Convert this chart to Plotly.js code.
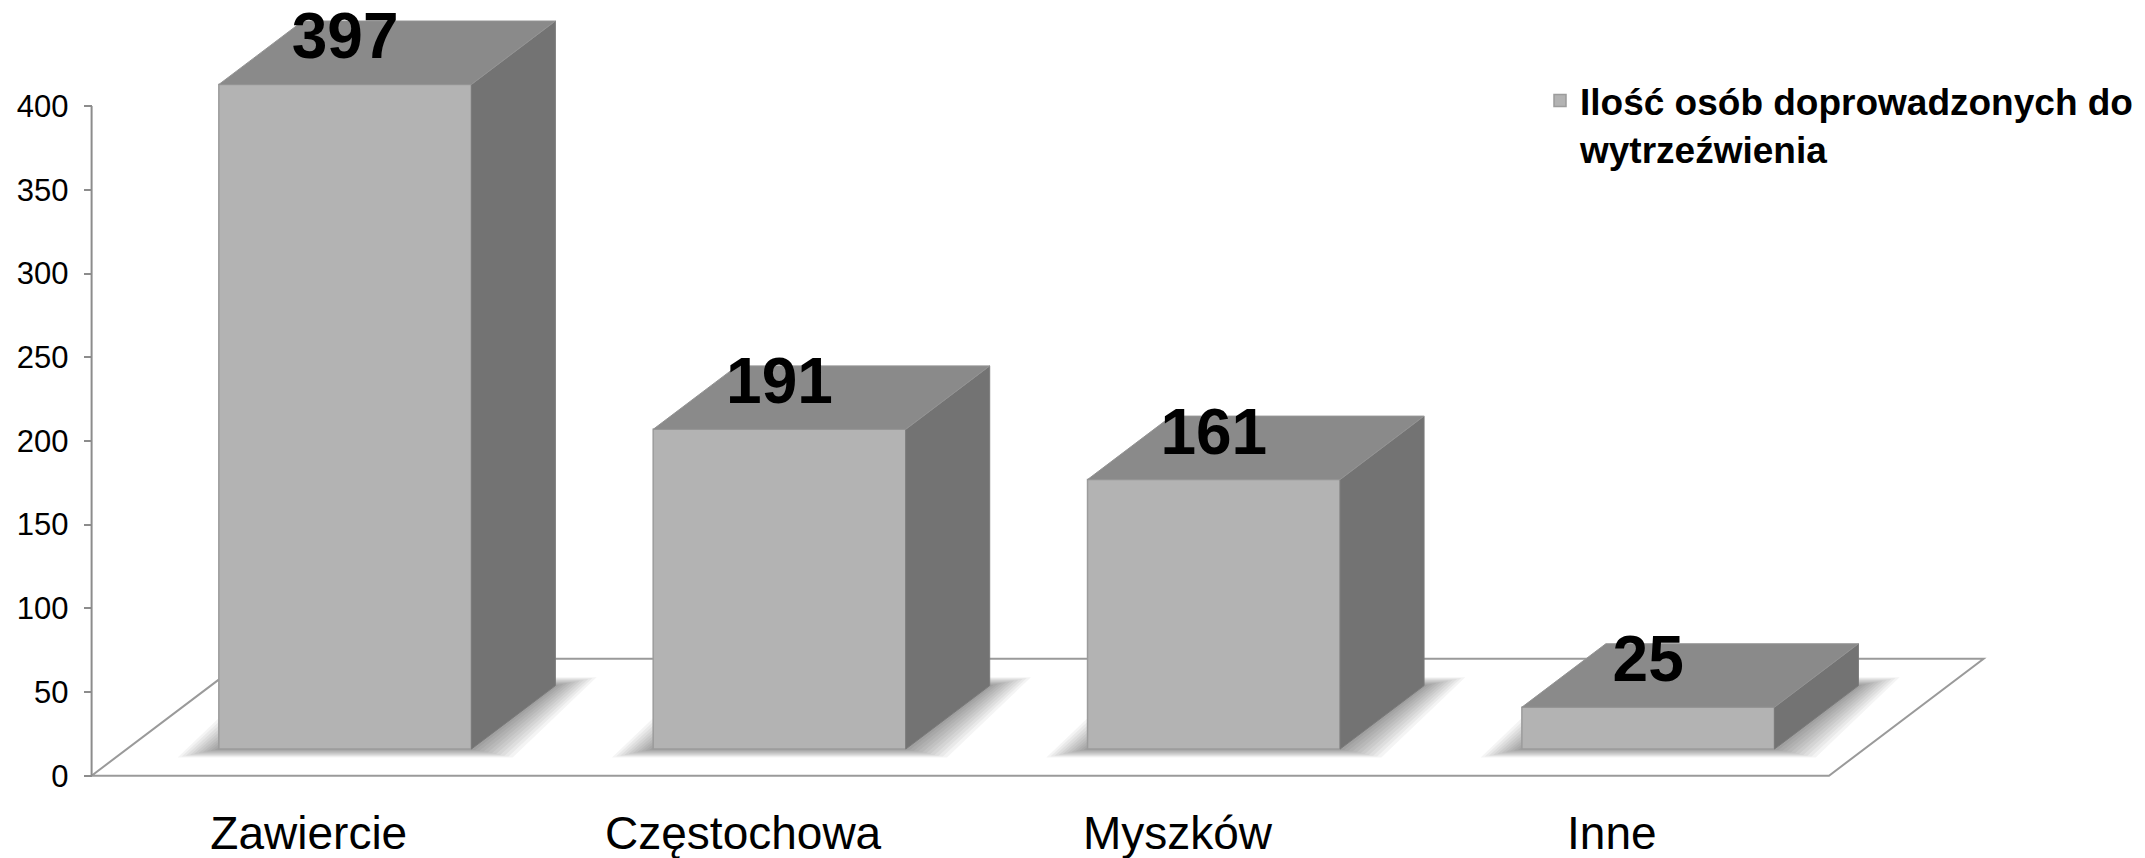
<!DOCTYPE html>
<html>
<head>
<meta charset="utf-8">
<script src="https://cdn.plot.ly/plotly-3.0.1.min.js"></script>
<style>html,body{margin:0;padding:0;background:#fff;}#chart{width:2145px;height:858px;}</style>
</head>
<body>
<div id="chart"></div>
<script>
// ---- data ----
const categories = ['Zawiercie', 'Częstochowa', 'Myszków', 'Inne'];
const values = [397, 191, 161, 25];
const yTickVals = [0, 50, 100, 150, 200, 250, 300, 350, 400];
const seriesName = 'Ilość osób doprowadzonych do<br>wytrzeźwienia';

// ---- 3D projection geometry (in axis units) ----
const DEPTH_X = 0.356;   // floor depth, x direction (category units)
const DEPTH_Y = 69.8;    // floor depth, y direction (value units)
const FRONT = 0.228;     // bar front face position as fraction of floor depth
const BAR_DEPTH = 0.543; // bar depth as fraction of floor depth
const BAR_W = 0.5815;    // bar width (category units)

const FONT = '"Liberation Sans", Arial, sans-serif';
const pos = categories.map((c, i) => i);
const xFront = pos.map(p => p + 0.235 * DEPTH_X);
const base = FRONT * DEPTH_Y;
const bdx = BAR_DEPTH * DEPTH_X, bdy = BAR_DEPTH * DEPTH_Y;

// top and side faces
const topX = [], topY = [], sideX = [], sideY = [];
values.forEach((v, i) => {
  const xl = xFront[i] - BAR_W / 2, xr = xFront[i] + BAR_W / 2;
  const yb = base, yt = base + v;
  topX.push(xl, xr, xr + bdx, xl + bdx, xl, null);
  topY.push(yt, yt, yt + bdy, yt + bdy, yt, null);
  sideX.push(xr, xr + bdx, xr + bdx, xr, xr, null);
  sideY.push(yb, yb + bdy, yt + bdy, yt, yb, null);
});

// layout helpers
const xMin = -0.5, xMax = categories.length - 0.5;
const shapes = [];
// floor
shapes.push({
  type: 'path', xref: 'x', yref: 'y', layer: 'below',
  path: `M${xMin},0 L${xMax},0 L${xMax + DEPTH_X},${DEPTH_Y} L${xMin + DEPTH_X},${DEPTH_Y} Z`,
  fillcolor: '#ffffff', line: {color: '#9a9a9a', width: 2}
});
// soft shadows of the bar footprints (stacked translucent layers)
const N_SHADOW = 10;
pos.forEach((p, i) => {
  const xl = xFront[i] - BAR_W / 2, xr = xFront[i] + BAR_W / 2;
  for (let k = 1; k <= N_SHADOW; k++) {
    const t = k / N_SHADOW;
    const ex = 0.095 * t, ey = 5.0 * t;
    shapes.push({
      type: 'path', xref: 'x', yref: 'y', layer: 'below',
      path: `M${xl - ex},${base - ey} L${xr + ex},${base - ey} L${xr + bdx + ex},${base + bdy + ey} L${xl + bdx - ex},${base + bdy + ey} Z`,
      fillcolor: 'rgba(0,0,0,0.045)', line: {width: 0}
    });
  }
});
// value axis line (0 .. last tick)
shapes.push({
  type: 'line', xref: 'x', yref: 'y', x0: xMin, x1: xMin,
  y0: yTickVals[0], y1: yTickVals[yTickVals.length - 1],
  line: {color: '#8c8c8c', width: 2}
});

const traces = [
  {
    type: 'bar', x: xFront, y: values, base: base, width: BAR_W,
    name: seriesName,
    marker: {color: '#b3b3b3', line: {color: '#9c9c9c', width: 1.5}},
    hoverinfo: 'skip', showlegend: true
  },
  {
    type: 'scatter', mode: 'lines', x: sideX, y: sideY, fill: 'toself',
    fillcolor: '#737373', line: {color: '#7a7a7a', width: 1},
    hoverinfo: 'skip', showlegend: false
  },
  {
    type: 'scatter', mode: 'lines', x: topX, y: topY, fill: 'toself',
    fillcolor: '#8a8a8a', line: {color: '#949494', width: 1},
    hoverinfo: 'skip', showlegend: false
  },
  {
    type: 'scatter', mode: 'text', x: xFront,
    y: values.map(v => base + v + 6),
    text: values.map(String), textposition: 'top center',
    textfont: {family: FONT, size: 64, color: '#000000', weight: 'bold'},
    cliponaxis: false, hoverinfo: 'skip', showlegend: false
  }
];

const W = 2145, H = 858;
const mL = 60, mR = 0, mT = 10, mB = 68;
const pxPerCat = 434.35, pxPerVal = 1.674;
const axisPx = 91.6;          // pixel position of the value axis
const zeroPx = 775.7;         // pixel position of value 0
const plotW = W - mL - mR, plotH = H - mT - mB;
const xr0 = xMin - (axisPx - mL) / pxPerCat;
const yr0 = -((H - mB) - zeroPx) / pxPerVal;

const layout = {
  width: W, height: H,
  margin: {l: mL, r: mR, t: mT, b: mB, pad: 0},
  paper_bgcolor: '#ffffff', plot_bgcolor: 'rgba(0,0,0,0)',
  font: {family: FONT, color: '#000000'},
  showlegend: true,
  xaxis: {
    type: 'linear', range: [xr0, xr0 + plotW / pxPerCat],
    tickvals: pos, ticktext: categories,
    showgrid: false, zeroline: false, showline: false, ticks: '',
    tickfont: {family: FONT, size: 46, color: '#000000'},
    ticklabelstandoff: 12, fixedrange: true
  },
  yaxis: {
    type: 'linear', range: [yr0, yr0 + plotH / pxPerVal],
    anchor: 'free', position: (axisPx - mL) / plotW,
    tickvals: yTickVals, ticktext: yTickVals.map(String),
    showgrid: false, zeroline: false, showline: false,
    ticks: 'outside', ticklen: 8, tickwidth: 2, tickcolor: '#8c8c8c',
    tickfont: {family: FONT, size: 31, color: '#000000'},
    ticklabelstandoff: 9, fixedrange: true
  },
  legend: {
    x: (1540 - mL) / plotW, xanchor: 'left',
    y: 1 - (70 - mT) / plotH, yanchor: 'top',
    valign: 'top', itemwidth: 30,
    bgcolor: 'rgba(0,0,0,0)', borderwidth: 0,
    font: {family: FONT, size: 37, color: '#000000', weight: 'bold'}
  },
  shapes: shapes,
  hovermode: false
};

Plotly.newPlot('chart', traces, layout, {displayModeBar: false, staticPlot: true});
</script>
</body>
</html>
